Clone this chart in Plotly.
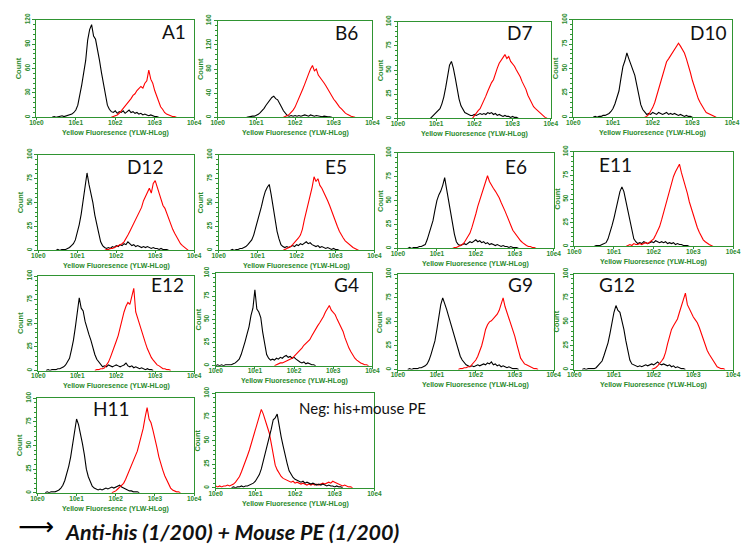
import numpy as np
import plotly.graph_objects as go

# ---------------- DATA ----------------
BIN = 0.05  # width of one histogram channel group, in decades

panel_names = ["A1", "B6", "D7", "D10", "D12", "E5", "E6", "E11",
               "E12", "G4", "G9", "G12", "H11", "Neg: his+mouse PE"]
y_max = [120, 160, 100, 100, 100, 100, 100, 100, 100, 100, 100, 100, 100, 100]
y_step = [30, 40, 25, 25, 25, 25, 25, 25, 25, 25, 25, 25, 25, 25]
x_tick_vals = [1, 10, 100, 1000, 10000]
x_tick_text = ["10e0", "10e1", "10e2", "10e3", "10e4"]
x_title = "Yellow Fluoresence (YLW-HLog)"
y_title = "Count"
footer_text = "Anti-his (1/200) + Mouse PE (1/200)"

# start (in decades) of each histogram list
black_start = [0.40, 0.75, 0.85, 0.50, 0.45, 0.30, 0.25, 0.50, 0.20, 0.00, 0.25, 0.20, 0.20, 0.40]
red_start = [1.90, 1.70, 1.95, 1.80, 1.70, 1.65, 1.40, 1.30, 1.45, 1.50, 1.55, 1.95, 1.90, 0.00]

A1_black = [0, 1, 0, 1, 1, 2, 1, 2, 3, 3, 4, 6, 9, 15, 26, 40, 55, 70, 95, 108, 114, 100, 96, 84, 70,
            55, 40, 27, 15, 10, 7, 6, 8, 5, 7, 6, 8, 5, 7, 9, 6, 7, 5, 6, 4, 5, 3, 4, 3, 2, 3, 2, 1, 1, 0]
A1_red = [0, 1, 2, 3, 5, 8, 10, 14, 17, 20, 23, 27, 29, 33, 35, 38, 36, 42, 45, 58, 47, 42, 33, 26,
          19, 13, 10, 6, 4, 3, 2, 1, 1, 0]
B6_black = [0, 1, 1, 2, 2, 3, 5, 8, 11, 15, 20, 25, 30, 33, 35, 31, 29, 24, 17, 11, 6, 3, 2, 3, 2, 3,
            2, 3, 2, 3, 4, 3, 2, 4, 3, 2, 3, 2, 2, 1, 2, 1, 1, 1, 0]
B6_red = [0, 1, 3, 5, 8, 12, 17, 24, 32, 38, 47, 55, 62, 72, 80, 86, 77, 80, 70, 66, 62, 57, 52, 46,
          41, 35, 30, 26, 21, 17, 14, 10, 7, 5, 3, 2, 1, 0]
D7_black = [0, 2, 3, 5, 7, 10, 15, 22, 32, 45, 55, 59, 52, 42, 30, 20, 13, 9, 6, 5, 4, 3, 3, 4, 3, 4,
            5, 4, 5, 4, 6, 5, 6, 4, 5, 3, 4, 3, 2, 3, 2, 2, 1, 2, 1, 1, 0]
D7_red = [0, 3, 5, 8, 10, 14, 18, 23, 28, 33, 37, 40, 47, 52, 57, 60, 63, 66, 62, 64, 59, 57, 54, 50,
          47, 43, 38, 34, 30, 24, 20, 16, 12, 10, 8, 6, 4, 2, 1, 0]
D10_black = [0, 1, 0, 1, 1, 2, 2, 3, 4, 6, 9, 14, 20, 27, 40, 52, 58, 66, 60, 55, 49, 43, 33, 22, 13,
             8, 5, 3, 4, 3, 5, 4, 3, 5, 4, 3, 4, 5, 3, 4, 3, 4, 3, 2, 3, 2, 1, 2, 1, 1, 0]
D10_red = [0, 1, 3, 6, 10, 15, 22, 30, 37, 43, 50, 57, 60, 63, 66, 70, 72, 76, 73, 70, 66, 60, 54, 46,
           38, 31, 25, 19, 15, 11, 8, 5, 4, 3, 2, 1, 0]
D12_black = [0, 1, 0, 1, 1, 1, 2, 3, 5, 7, 11, 18, 27, 38, 54, 70, 81, 69, 60, 50, 37, 26, 18, 9, 5, 3,
             2, 3, 2, 4, 3, 5, 4, 6, 5, 7, 6, 9, 7, 5, 6, 4, 5, 4, 3, 4, 3, 4, 3, 2, 3, 2, 2, 1, 2, 1,
             1, 1, 0]
D12_red = [0, 1, 1, 2, 2, 3, 4, 5, 6, 7, 9, 12, 16, 20, 24, 28, 32, 36, 40, 45, 52, 57, 62, 65, 60, 70,
           73, 66, 60, 52, 47, 44, 38, 33, 28, 22, 18, 14, 10, 7, 5, 3, 1, 0]
E5_black = [0, 1, 0, 1, 1, 2, 2, 3, 4, 6, 8, 11, 16, 23, 30, 38, 46, 55, 62, 66, 69, 58, 45, 33, 20, 12,
            6, 4, 3, 4, 3, 4, 5, 4, 6, 5, 7, 6, 8, 9, 7, 8, 6, 5, 4, 5, 3, 4, 3, 2, 3, 2, 1, 2, 1, 1, 0]
E5_red = [0, 1, 2, 3, 4, 6, 8, 10, 13, 16, 22, 32, 40, 48, 58, 66, 77, 72, 75, 68, 65, 61, 56, 52, 47,
          41, 35, 30, 25, 20, 16, 13, 10, 8, 6, 4, 3, 2, 1, 0]
E6_black = [0, 1, 0, 1, 1, 1, 2, 2, 3, 4, 9, 15, 22, 29, 40, 50, 56, 60, 66, 74, 62, 50, 38, 26, 15, 7,
            4, 3, 4, 5, 4, 6, 7, 6, 8, 9, 7, 8, 6, 7, 5, 6, 4, 5, 4, 3, 4, 3, 2, 3, 2, 2, 1, 2, 1, 1,
            1, 0]
E6_red = [0, 1, 1, 2, 3, 4, 6, 9, 12, 16, 22, 28, 36, 44, 50, 56, 62, 68, 76, 70, 66, 63, 60, 57, 53,
          48, 44, 39, 34, 28, 24, 19, 16, 13, 10, 8, 6, 4, 3, 2, 2, 1, 1, 0]
E11_black = [0, 1, 1, 1, 2, 3, 4, 8, 14, 22, 30, 40, 50, 58, 63, 58, 48, 37, 26, 16, 8, 5, 3, 4, 3, 5,
             4, 3, 4, 5, 4, 6, 5, 4, 5, 4, 5, 3, 4, 3, 4, 2, 3, 2, 2, 1, 1, 1, 0]
E11_red = [0, 1, 2, 1, 3, 2, 2, 3, 2, 3, 4, 3, 5, 6, 8, 12, 16, 21, 28, 36, 43, 52, 60, 68, 74, 79, 84,
           87, 78, 71, 64, 56, 47, 40, 33, 26, 20, 15, 10, 7, 5, 3, 2, 1, 0]
E12_black = [0, 1, 0, 1, 1, 1, 2, 2, 3, 4, 6, 9, 13, 22, 32, 46, 62, 77, 66, 63, 52, 44, 38, 32, 24, 17,
             12, 9, 6, 4, 5, 4, 6, 5, 4, 5, 6, 5, 4, 5, 6, 8, 5, 4, 5, 3, 4, 3, 2, 3, 2, 1, 2, 1, 1, 0]
E12_red = [0, 1, 1, 2, 2, 3, 6, 9, 14, 19, 25, 31, 37, 46, 56, 62, 68, 72, 70, 78, 87, 62, 55, 48, 42,
           36, 29, 23, 18, 14, 11, 8, 6, 5, 3, 2, 2, 1, 1, 0]
G4_black = [0, 1, 0, 1, 0, 1, 1, 1, 1, 2, 3, 5, 7, 12, 18, 26, 34, 42, 54, 62, 82, 61, 58, 52, 36, 22,
            12, 8, 6, 7, 6, 8, 7, 9, 8, 10, 11, 9, 10, 8, 9, 7, 5, 4, 3, 4, 2, 3, 2, 1, 1, 0]
G4_red = [0, 1, 2, 3, 3, 4, 5, 6, 7, 8, 10, 12, 14, 17, 19, 22, 24, 26, 28, 32, 36, 40, 43, 46, 49, 53,
          58, 62, 65, 60, 57, 55, 50, 46, 42, 37, 30, 24, 19, 15, 11, 8, 6, 4, 3, 2, 1, 1, 0]
G9_black = [0, 1, 0, 1, 1, 1, 2, 2, 3, 4, 6, 10, 16, 22, 30, 42, 55, 68, 75, 70, 63, 56, 49, 42, 36, 27,
            20, 14, 10, 7, 5, 4, 3, 4, 3, 4, 5, 4, 5, 6, 5, 7, 6, 8, 5, 6, 4, 5, 3, 4, 3, 2, 3, 2, 1,
            1, 1, 0]
G9_red = [0, 1, 1, 2, 2, 3, 3, 5, 7, 10, 14, 19, 25, 33, 42, 47, 50, 51, 53, 56, 58, 62, 68, 75, 66, 60,
          54, 47, 40, 35, 27, 18, 12, 9, 6, 5, 4, 3, 2, 1, 1, 0]
G12_black = [0, 1, 0, 1, 1, 1, 1, 2, 4, 6, 9, 15, 21, 28, 38, 50, 60, 67, 62, 60, 52, 42, 30, 18, 10, 6,
             5, 4, 3, 4, 3, 4, 5, 4, 5, 6, 5, 7, 8, 6, 5, 6, 5, 4, 5, 3, 4, 2, 3, 2, 1, 1, 0]
G12_red = [0, 1, 2, 4, 6, 9, 12, 18, 27, 35, 42, 46, 50, 53, 60, 66, 73, 80, 68, 63, 58, 55, 52, 49, 44,
           38, 30, 25, 20, 16, 13, 9, 6, 3, 2, 1, 1, 0]
H11_black = [0, 1, 0, 1, 1, 1, 2, 3, 5, 8, 13, 20, 28, 38, 52, 66, 78, 72, 63, 52, 40, 25, 17, 11, 7, 5,
             4, 3, 4, 3, 4, 5, 4, 5, 6, 5, 6, 7, 8, 6, 5, 4, 3, 2, 2, 1, 1, 1, 0]
H11_red = [0, 1, 2, 4, 6, 8, 10, 14, 19, 23, 28, 33, 38, 44, 52, 60, 68, 80, 90, 78, 74, 66, 58, 48, 38,
           30, 24, 18, 14, 9, 5, 3, 2, 1, 1, 0]
Neg_black = [0, 1, 0, 1, 1, 2, 1, 2, 2, 3, 4, 5, 7, 10, 14, 20, 28, 36, 44, 52, 62, 72, 74, 78, 64, 54,
             44, 34, 26, 18, 14, 11, 9, 8, 7, 6, 7, 5, 6, 5, 4, 5, 4, 3, 4, 3, 4, 3, 2, 3, 2, 2, 1, 2,
             1, 1, 0]
Neg_red = [2, 1, 2, 1, 2, 2, 3, 2, 3, 4, 6, 9, 12, 17, 22, 27, 34, 40, 47, 54, 60, 68, 74, 83, 78, 72,
           66, 58, 47, 36, 24, 19, 15, 12, 10, 9, 8, 7, 6, 7, 5, 6, 5, 4, 5, 4, 3, 4, 3, 4, 3, 4, 3, 4,
           5, 4, 5, 6, 5, 7, 6, 5, 4, 3, 2, 3, 2, 1, 1, 0]

black_counts = [A1_black, B6_black, D7_black, D10_black, D12_black, E5_black, E6_black, E11_black,
                E12_black, G4_black, G9_black, G12_black, H11_black, Neg_black]
red_counts = [A1_red, B6_red, D7_red, D10_red, D12_red, E5_red, E6_red, E11_red,
              E12_red, G4_red, G9_red, G12_red, H11_red, Neg_red]

# ---------------- LAYOUT ----------------
W, H = 742, 547
GREEN = "#2f9432"
TXT_GREEN = "#2a8a2c"

# plot boxes in pixels (left, top, right, bottom)
boxes = [(30, 13, 191, 112), (215, 14, 373, 112), (399, 15, 555, 113), (578, 13, 740, 112),
         (32, 150, 191, 247), (216, 150, 375, 247), (399, 148, 558, 245), (579, 147, 741, 243),
         (32, 273, 191, 369), (213, 270, 373, 364), (399, 271, 558, 368), (579, 271, 741, 368),
         (31, 397, 191, 493), (213, 392, 375, 488)]
label_pos = [(170, 25), (347, 26), (523, 26), (716, 26), (141, 162), (336, 162), (520, 162),
             (621, 160), (164, 282), (347, 282), (524, 282), (623, 282), (107, 407), (296, 407)]

fig = go.Figure()
annotations = []
layout_axes = {}


def px(x):
    return x / W


def py(y):
    return 1 - y / H


tick_font = dict(family="Liberation Sans", size=6.5, color=TXT_GREEN, weight="bold")

for i in range(len(panel_names)):
    n = "" if i == 0 else str(i + 1)
    l, t, r, b = boxes[i]
    traces = [(black_counts[i], black_start[i], "#000000"), (red_counts[i], red_start[i], "#ff0000")]
    if i == 13:
        traces = traces[::-1]
    for counts, start, col in traces:
        xs = 10 ** (start + BIN * np.arange(len(counts)))
        fig.add_trace(go.Scatter(x=xs, y=counts, mode="lines", line=dict(color=col, width=1.1),
                                 xaxis="x" + n, yaxis="y" + n, showlegend=False, hoverinfo="skip"))
    layout_axes["xaxis" + n] = dict(
        domain=[px(l), px(r)], anchor="y" + n, type="log", range=[0, 4],
        showline=True, linecolor=GREEN, linewidth=1, mirror=True, showgrid=False, zeroline=False,
        ticks="outside", ticklen=2, tickcolor=GREEN, tickvals=x_tick_vals, ticktext=x_tick_text,
        tickfont=tick_font, ticklabelstandoff=-3, fixedrange=True)
    layout_axes["yaxis" + n] = dict(
        domain=[py(b), py(t)], anchor="x" + n, range=[0, y_max[i]], tick0=0, dtick=y_step[i],
        showline=True, linecolor=GREEN, linewidth=1, mirror=True, showgrid=False, zeroline=False,
        ticks="outside", ticklen=3, tickcolor=GREEN, tickangle=-90, tickfont=tick_font,
        minor=dict(ticks="outside", ticklen=2, dtick=y_step[i] / 5, tickcolor=GREEN),
        fixedrange=True)
    # axis titles
    annotations.append(dict(x=px((l + r) / 2), y=py(b + 16), xref="paper", yref="paper",
                            text=x_title, showarrow=False, xanchor="center", yanchor="middle",
                            font=dict(family="Liberation Sans", size=7, color=TXT_GREEN, weight="bold")))
    annotations.append(dict(x=px(l - 18), y=py((t + b) / 2), xref="paper", yref="paper",
                            text=y_title, showarrow=False, textangle=-90, xanchor="center",
                            yanchor="middle",
                            font=dict(family="Liberation Sans", size=7.5, color=TXT_GREEN, weight="bold")))
    # panel label
    lx, ly = label_pos[i]
    if i == 13:
        annotations.append(dict(x=px(lx), y=py(ly), xref="paper", yref="paper", text=panel_names[i],
                                showarrow=False, xanchor="left", yanchor="middle",
                                font=dict(family="Lato", size=15, color="#111111")))
    else:
        annotations.append(dict(x=px(lx), y=py(ly), xref="paper", yref="paper", text=panel_names[i],
                                showarrow=False, xanchor="center", yanchor="middle",
                                font=dict(family="Lato", size=19, color="#111111")))

# footer
annotations.append(dict(x=px(30), y=py(527), xref="paper", yref="paper", text="⟶",
                        showarrow=False, xanchor="center", yanchor="middle",
                        font=dict(family="DejaVu Sans", size=25, color="#000000")))
annotations.append(dict(x=px(58), y=py(533), xref="paper", yref="paper",
                        text="<b><i>" + footer_text + "</i></b>",
                        showarrow=False, xanchor="left", yanchor="middle", borderpad=0,
                        font=dict(family="Lato", size=21.5, color="#111111")))

fig.update_layout(width=W, height=H, margin=dict(l=0, r=0, t=0, b=0),
                  paper_bgcolor="white", plot_bgcolor="white",
                  annotations=annotations, **layout_axes)
fig.write_html("out.html", config={"displayModeBar": False},
               post_script="document.body.style.margin='0';document.body.style.overflow='hidden';")
